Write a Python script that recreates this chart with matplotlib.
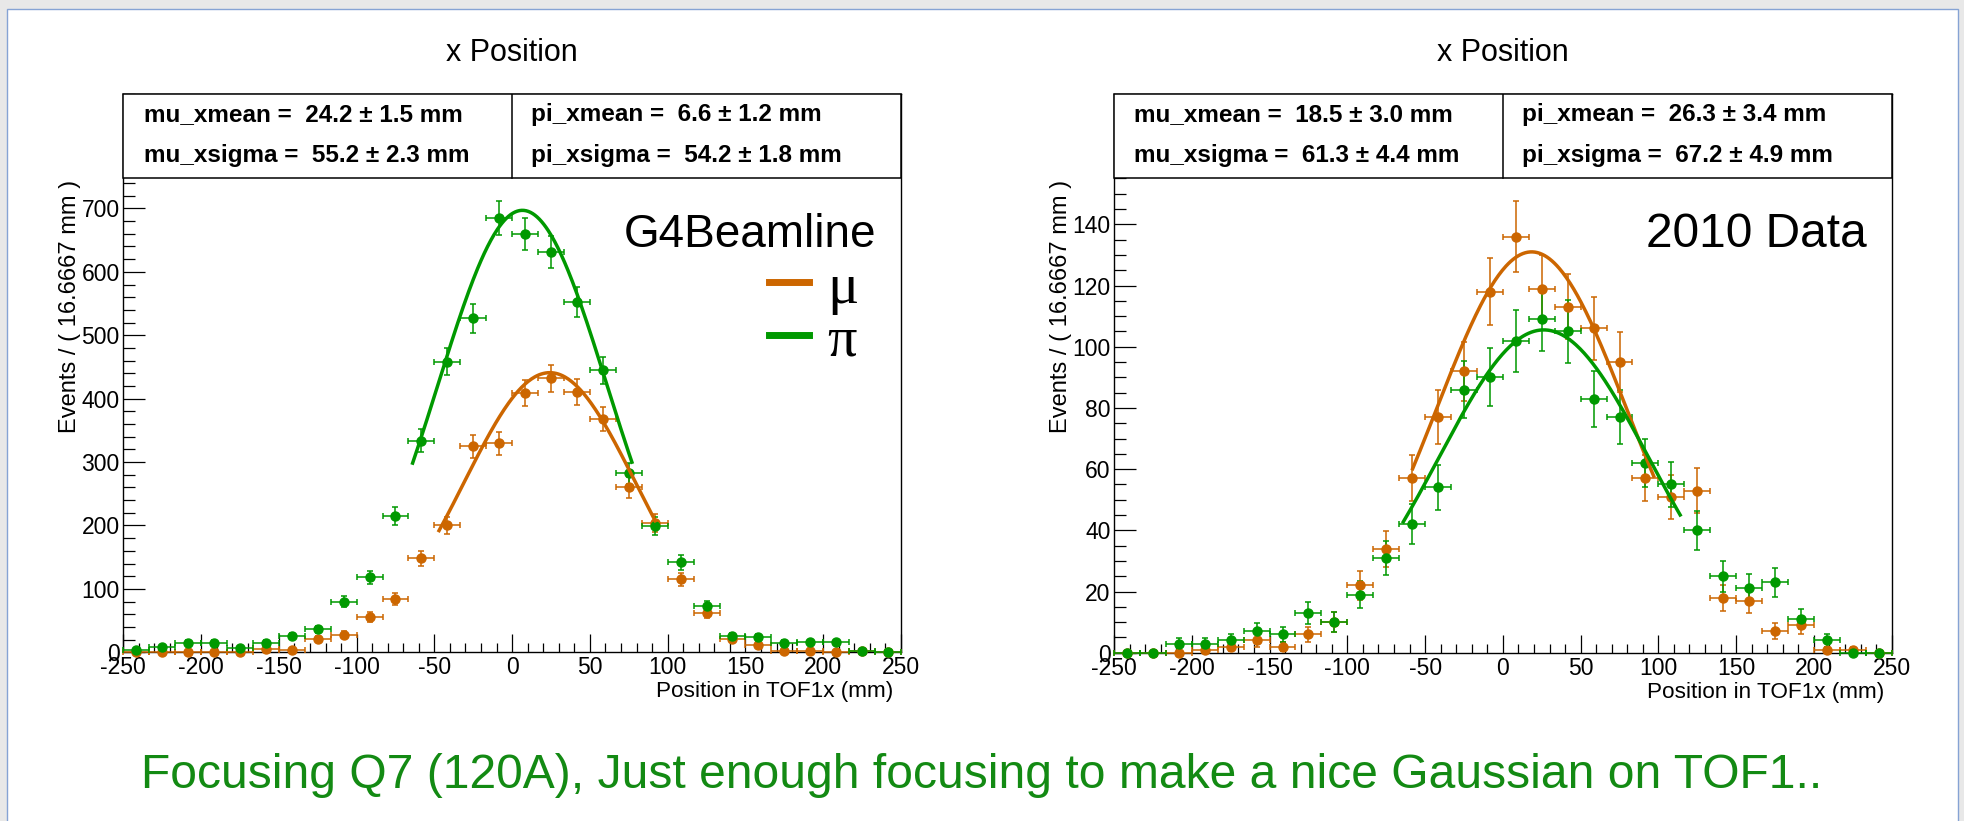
import numpy as np
import matplotlib.pyplot as plt
from matplotlib.patches import Rectangle
from matplotlib.lines import Line2D
from matplotlib.ticker import MultipleLocator

plt.rcParams['font.family'] = ['Liberation Sans', 'DejaVu Sans']
plt.rcParams['axes.unicode_minus'] = False

# binning of TOF1x histograms (30 bins of 16.6667 mm)
edges = np.linspace(-250, 250, 31)
centers = 0.5 * (edges[:-1] + edges[1:])
half_bin = 0.5 * (edges[1] - edges[0])

# G4Beamline simulation, events per bin
sim_mu = [0, 0, 0, 0, 0, 5, 3, 21, 28, 56, 84, 148, 200, 325, 330,
          409, 432, 411, 368, 260, 204, 115, 62, 21, 12, 2, 2, 0, 2, 0]
sim_pi = [4, 9, 15, 15, 7, 15, 26, 36, 80, 118, 215, 334, 458, 527, 685,
          660, 631, 553, 445, 282, 199, 142, 73, 25, 24, 15, 16, 16, 2, 0]

# 2010 data, events per bin
data_mu = [0, 0, 0, 1, 2, 4, 2, 6, 10, 22, 34, 57, 77, 92, 118,
           136, 119, 113, 106, 95, 57, 51, 53, 18, 17, 7, 9, 1, 1, 0]
data_pi = [0, 0, 3, 3, 4, 7, 6, 13, 10, 19, 31, 42, 54, 86, 90,
           102, 109, 105, 83, 77, 62, 55, 40, 25, 21, 23, 11, 4, 0, 0]

# gaussian fits: (amplitude, mean, sigma, x_from, x_to)
sim_fit_mu = (441, 24.2, 55.2, -47, 92)
sim_fit_pi = (697, 6.6, 54.2, -64, 77)
data_fit_mu = (131, 18.5, 61.3, -58, 97)
data_fit_pi = (105.5, 26.3, 67.2, -64, 114)

sim_stats = ['mu_xmean =  24.2 ± 1.5 mm', 'mu_xsigma =  55.2 ± 2.3 mm',
             'pi_xmean =  6.6 ± 1.2 mm', 'pi_xsigma =  54.2 ± 1.8 mm']
data_stats = ['mu_xmean =  18.5 ± 3.0 mm', 'mu_xsigma =  61.3 ± 4.4 mm',
              'pi_xmean =  26.3 ± 3.4 mm', 'pi_xsigma =  67.2 ± 4.9 mm']

c_mu = '#cc6600'
c_pi = '#009900'

fig = plt.figure(figsize=(19.64, 8.21), dpi=100, facecolor='#e8e8e8')
fig.patches.append(Rectangle((6.7 / 1964, -0.01), 1951 / 1964, 1 - 9 / 821 + 0.01,
                             transform=fig.transFigure, fc='white', ec='#86a3d4',
                             lw=1.0, zorder=-5))


def gauss(fit):
    a, m, s, x0, x1 = fit
    x = np.linspace(x0, x1, 200)
    return x, a * np.exp(-0.5 * ((x - m) / s) ** 2)


def panel(ax, mu, pi, fit_mu, fit_pi, stats, tag, tag_size, ymax, ymaj, ystep, ymin_step):
    ax.set_facecolor('none')
    for counts, col in ((mu, c_mu), (pi, c_pi)):
        counts = np.array(counts, dtype=float)
        ax.errorbar(centers, counts, xerr=half_bin, yerr=np.sqrt(counts),
                    fmt='o', color=col, ms=6.5, elinewidth=1.1, capsize=2,
                    capthick=1.1, clip_on=False, zorder=3)
    for fit, col in ((fit_mu, c_mu), (fit_pi, c_pi)):
        x, y = gauss(fit)
        ax.plot(x, y, color=col, lw=2.5, zorder=4)

    ax.set_xlim(-250, 250)
    ax.set_ylim(0, ymax)
    ax.set_xticks(np.arange(-250, 251, 50))
    ax.xaxis.set_minor_locator(MultipleLocator(10))
    ax.set_yticks(np.arange(0, ymaj + 1, ystep))
    ax.yaxis.set_minor_locator(MultipleLocator(ymin_step))
    ax.tick_params(axis='x', which='major', direction='in', length=13, width=0.9,
                   labelsize=16.5, pad=3)
    ax.tick_params(axis='x', which='minor', direction='in', length=6.5, width=0.9)
    ax.tick_params(axis='y', which='major', direction='in', length=16, width=0.9,
                   labelsize=16.5, pad=2.5)
    ax.tick_params(axis='y', which='minor', direction='in', length=8.5, width=0.9)
    for sp in ax.spines.values():
        sp.set_linewidth(1.0)

    ax.set_xlabel('Position in TOF1x (mm)', fontsize=16.2, loc='right')
    ax.xaxis.set_label_coords(0.99, -0.052)
    ax.xaxis.label.set_va('top')
    ax.set_ylabel('Events / ( 16.6667 mm )', fontsize=17, loc='top')
    ax.yaxis.set_label_coords(-0.054, 0.846)
    ax.set_title('x Position', fontsize=22, pad=24)

    # stats box
    yb = 0.8505
    ax.add_patch(Rectangle((0, yb), 1, 1 - yb, transform=ax.transAxes, fc='white',
                           ec='black', lw=1.1, zorder=10, clip_on=False))
    ax.add_line(Line2D([0.5, 0.5], [yb, 1], transform=ax.transAxes, color='black',
                       lw=1.1, zorder=11))
    for i, (xt, yt) in enumerate(((0.026, 0.963), (0.026, 0.891),
                                   (0.524, 0.963), (0.524, 0.891))):
        ax.text(xt, yt, stats[i], transform=ax.transAxes, fontsize=17.5,
                fontweight='bold', va='center', ha='left', zorder=12)

    ax.text(0.968, 0.727, tag, transform=ax.transAxes, fontsize=tag_size,
            ha='right', va='baseline', zorder=5)


ax1 = fig.add_axes([123.3 / 1964, 1 - 652.3 / 821, 777.7 / 1964, 558 / 821])
panel(ax1, sim_mu, sim_pi, sim_fit_mu, sim_fit_pi, sim_stats, 'G4Beamline', 33,
      880, 700, 100, 20)
keys = [Line2D([], [], color=c_mu, lw=5), Line2D([], [], color=c_pi, lw=5)]
ax1.legend(keys, ['μ', 'π'], loc='upper right', bbox_to_anchor=(0.945, 0.70),
           frameon=False, prop={'family': 'Liberation Serif', 'size': 42},
           handlelength=0.7, handletextpad=0.3, borderaxespad=0, borderpad=0,
           labelspacing=0.0)

ax2 = fig.add_axes([1114 / 1964, 1 - 652.7 / 821, 777.7 / 1964, 558.4 / 821])
panel(ax2, data_mu, data_pi, data_fit_mu, data_fit_pi, data_stats, '2010 Data', 34.5,
      182.5, 140, 20, 5)

fig.text(0.5, 1 - 788 / 821,
         'Focusing Q7 (120A), Just enough focusing to make a nice Gaussian on TOF1..',
         ha='center', va='baseline', fontsize=34.6, color='#138a13')

fig.savefig('out.png', dpi=100, facecolor=fig.get_facecolor())
